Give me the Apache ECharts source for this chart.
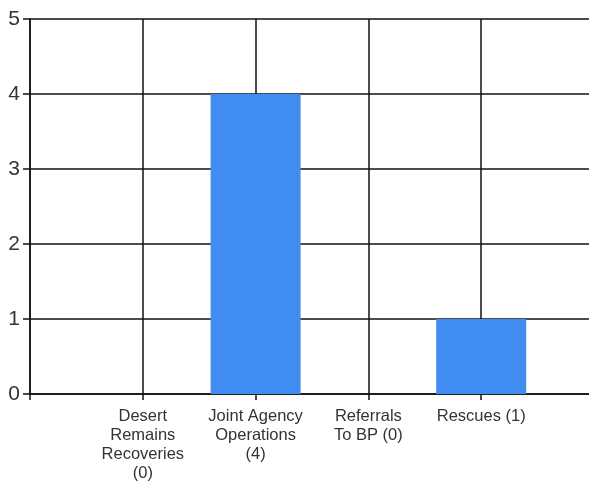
<!DOCTYPE html>
<html>
<head>
<meta charset="utf-8">
<script src="https://cdn.jsdelivr.net/npm/echarts@6/dist/echarts.min.js"></script>
<style>
html,body{margin:0;padding:0;background:#fff;}
#chart{width:589px;height:484px;}
</style>
</head>
<body>
<div id="chart"></div>
<script>
var categories = ['Desert\nRemains\nRecoveries\n(0)', 'Joint Agency\nOperations\n(4)', 'Referrals\nTo BP (0)', 'Rescues (1)'];
var values = [0, 4, 0, 1];
var yTicks = [0, 1, 2, 3, 4, 5];

// pad with empty slots at both ends so the category positions fall between them
var axisCats = [''].concat(categories).concat(['']);
var axisVals = [null].concat(values).concat([null]);

var chart = echarts.init(document.getElementById('chart'));
chart.setOption({
  animation: false,
  backgroundColor: '#fff',
  grid: { left: 30, top: 19, width: 564, height: 375, containLabel: false, outerBoundsMode: 'none' },
  xAxis: {
    type: 'category',
    data: axisCats,
    boundaryGap: false,
    axisLine: { show: true, lineStyle: { color: '#111', width: 1.5 } },
    axisTick: { show: true, length: 6, interval: 0, lineStyle: { color: '#111', width: 1.5 } },
    axisLabel: {
      interval: 0, margin: 13, fontSize: 16.5, lineHeight: 19,
      fontFamily: 'Liberation Sans, Arial, sans-serif', color: '#333', align: 'center'
    },
    splitLine: { show: true, interval: 0, lineStyle: { color: '#111', width: 1.5 } }
  },
  yAxis: {
    type: 'value',
    min: yTicks[0], max: yTicks[yTicks.length - 1], interval: 1,
    axisLine: { show: true, lineStyle: { color: '#111', width: 1.5 } },
    axisTick: { show: true, length: 7, lineStyle: { color: '#111', width: 1.5 } },
    axisLabel: { margin: 10, fontSize: 21, fontFamily: 'Liberation Sans, Arial, sans-serif', color: '#333' },
    splitLine: { show: true, lineStyle: { color: '#111', width: 1.5 } }
  },
  series: [{
    type: 'bar',
    data: axisVals,
    barWidth: 90,
    itemStyle: { color: '#418CF0' }
  }]
});
</script>
</body>
</html>
